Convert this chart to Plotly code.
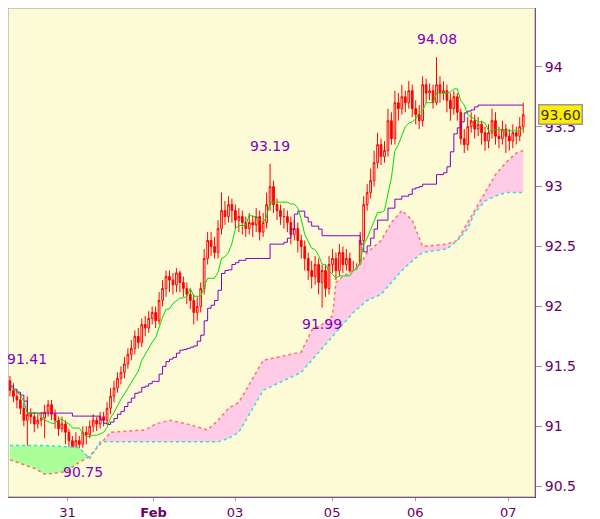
import plotly.graph_objects as go
import pandas as pd

first_open = 91.38
closes = [91.30,91.25,91.22,91.15,91.05,91.10,91.08,91.02,91.05,91.07,
          91.12,91.18,91.10,91.05,90.98,91.02,90.95,90.88,90.80,90.88,
          90.85,90.95,90.93,91.00,91.05,91.02,91.08,91.05,91.15,91.25,
          91.32,91.40,91.45,91.52,91.60,91.65,91.75,91.70,91.85,91.82,
          91.90,91.95,91.88,92.05,92.15,92.25,92.22,92.18,92.28,92.20,
          92.15,92.10,92.05,91.95,92.00,92.15,92.40,92.55,92.50,92.45,
          92.65,92.80,92.75,92.85,92.80,92.72,92.75,92.70,92.65,92.70,
          92.68,92.75,92.62,92.70,92.85,93.00,92.85,92.80,92.75,92.75,
          92.70,92.60,92.65,92.55,92.50,92.40,92.30,92.25,92.35,92.20,
          92.30,92.15,92.35,92.40,92.30,92.45,92.35,92.40,92.30,92.20,
          92.30,92.55,92.85,92.95,93.05,93.20,93.35,93.25,93.30,93.55,
          93.40,93.70,93.65,93.75,93.70,93.80,93.65,93.60,93.55,93.85,
          93.78,93.80,93.70,93.85,93.78,93.80,93.72,93.65,93.75,93.62,
          93.40,93.35,93.50,93.55,93.48,93.52,93.45,93.38,93.45,93.55,
          93.42,93.40,93.48,93.42,93.38,93.45,93.42,93.50,93.60]
highs = [91.42,91.36,91.30,91.28,91.20,91.25,91.15,91.12,91.10,91.12,
         91.18,91.22,91.22,91.14,91.08,91.08,91.05,90.98,90.92,90.95,
         90.92,91.00,91.00,91.05,91.10,91.08,91.12,91.12,91.20,91.32,
         91.38,91.45,91.50,91.58,91.65,91.72,91.80,91.82,91.90,91.92,
         91.96,92.00,92.00,92.12,92.22,92.30,92.30,92.28,92.32,92.30,
         92.25,92.20,92.15,92.10,92.08,92.20,92.48,92.62,92.62,92.58,
         92.72,92.95,92.88,92.92,92.90,92.85,92.82,92.80,92.75,92.78,
         92.76,92.82,92.80,92.78,92.95,93.19,93.05,92.90,92.85,92.82,
         92.80,92.75,92.72,92.70,92.60,92.55,92.45,92.38,92.42,92.40,
         92.35,92.35,92.42,92.48,92.45,92.52,92.50,92.48,92.45,92.38,
         92.36,92.62,92.92,93.02,93.15,93.30,93.45,93.40,93.38,93.65,
         93.62,93.80,93.78,93.85,93.80,93.88,93.85,93.72,93.68,93.92,
         93.90,93.86,93.85,94.08,93.92,93.88,93.85,93.78,93.80,93.78,
         93.65,93.48,93.58,93.62,93.60,93.58,93.55,93.50,93.52,93.65,
         93.62,93.50,93.55,93.52,93.48,93.52,93.50,93.58,93.70]
lows = [91.25,91.20,91.15,91.10,91.00,90.80,91.02,90.95,90.98,91.00,
        90.90,91.08,91.05,90.98,90.92,90.95,90.85,90.82,90.75,90.78,
        90.78,90.82,90.85,90.90,90.95,90.96,90.98,91.00,91.02,91.10,
        91.20,91.28,91.35,91.40,91.48,91.55,91.60,91.65,91.66,91.75,
        91.78,91.85,91.82,91.85,92.00,92.08,92.12,92.10,92.12,92.12,
        92.08,92.02,91.98,91.85,91.88,91.95,92.10,92.35,92.42,92.40,
        92.40,92.60,92.68,92.70,92.70,92.65,92.62,92.60,92.58,92.60,
        92.58,92.62,92.55,92.58,92.65,92.80,92.78,92.72,92.68,92.65,
        92.62,92.52,92.55,92.45,92.40,92.30,92.22,92.15,92.18,92.10,
        91.99,92.08,92.10,92.28,92.22,92.25,92.28,92.30,92.20,92.12,
        92.15,92.25,92.50,92.80,92.90,93.00,93.15,93.18,93.20,93.25,
        93.35,93.35,93.55,93.60,93.62,93.65,93.58,93.52,93.48,93.50,
        93.70,93.72,93.65,93.68,93.70,93.72,93.62,93.55,93.60,93.55,
        93.35,93.28,93.30,93.45,93.40,93.42,93.35,93.30,93.32,93.40,
        93.35,93.32,93.35,93.28,93.30,93.32,93.35,93.38,93.45]

cloud_x = [0,7,10,16,20,23,26,29,39,42,46,51,57,60,63,66,73,84,87,90,93,94,96,99,
           101,103,107,110,113,116,119,126,129,132,134,137,140,143,146,148]
span_b = [90.72,90.65,90.60,90.62,90.70,90.75,90.85,90.95,90.97,91.02,91.05,91.02,90.97,
          91.05,91.15,91.20,91.55,91.62,91.80,91.85,91.92,92.20,92.25,92.30,92.35,92.45,
          92.55,92.70,92.80,92.72,92.50,92.52,92.55,92.70,92.80,92.95,93.10,93.20,93.28,93.30]
span_a = [90.84,90.84,90.84,90.83,90.82,90.73,90.87,90.87,90.87,90.87,90.87,90.87,90.87,
          90.87,90.90,90.95,91.30,91.45,91.55,91.65,91.75,91.78,91.85,91.95,92.00,92.05,
          92.10,92.20,92.30,92.38,92.45,92.48,92.55,92.65,92.78,92.88,92.92,92.95,92.95,92.95]

tick_pos = [16.6, 41.4, 64.9, 92.9, 116.9, 143.7]
tick_text = ["31", "<b>Feb</b>", "03", "05", "06", "07"]
y_ticks = [90.5, 91, 91.5, 92, 92.5, 93, 93.5, 94]
y_text = ["90.5", "91", "91.5", "92", "92.5", "93", "93.5", "94"]
last_price = 93.60
marks = [(5, 91.41, "91.41", 18), (21, 90.75, "90.75", -16), (75, 93.19, "93.19", 18),
         (90, 91.99, "91.99", -16), (123, 94.08, "94.08", 18)]

n = len(closes)
x = list(range(n))
opens = [first_open] + closes[:-1]
hs = pd.Series(highs); ls = pd.Series(lows)
tenkan = (hs.rolling(9, min_periods=1).max() + ls.rolling(9, min_periods=1).min()) / 2
kijun = (hs.rolling(26, min_periods=1).max() + ls.rolling(26, min_periods=1).min()) / 2

fig = go.Figure()
def cloud(sl, color):
    xs = cloud_x[sl]
    fig.add_trace(go.Scatter(x=xs, y=span_b[sl], mode="lines", line=dict(width=0), showlegend=False, hoverinfo="skip"))
    fig.add_trace(go.Scatter(x=xs, y=span_a[sl], mode="lines", line=dict(width=0), fill="tonexty",
                             fillcolor=color, showlegend=False, hoverinfo="skip"))
cloud(slice(0, 6), "#aaff99")
cloud(slice(5, None), "#ffcce8")
fig.add_trace(go.Scatter(x=cloud_x, y=span_b, mode="lines", line=dict(color="#ff7070", width=1.5, dash="dot"), showlegend=False))
fig.add_trace(go.Scatter(x=cloud_x, y=span_a, mode="lines", line=dict(color="#33dde0", width=1.5, dash="dot"), showlegend=False))
fig.add_trace(go.Scatter(x=x, y=kijun, mode="lines", line=dict(color="#8000c0", width=1, shape="hv"), showlegend=False))
fig.add_trace(go.Scatter(x=x, y=tenkan, mode="lines", line=dict(color="#00dd00", width=1), showlegend=False))
fig.add_trace(go.Candlestick(x=x, open=opens, high=highs, low=lows, close=closes,
                             increasing=dict(line=dict(color="#ff0000", width=1), fillcolor="#fffbe0"),
                             decreasing=dict(line=dict(color="#ff0000", width=1), fillcolor="#ff0000"),
                             whiskerwidth=0, showlegend=False))
for xi, yi, t, ys in marks:
    fig.add_annotation(x=xi, y=yi, text=t, showarrow=False, yshift=ys,
                       font=dict(family="DejaVu Sans", size=14, color="#8000c0"))
fig.add_annotation(xref="paper", x=1.005, y=last_price, text="93.60", showarrow=False, xanchor="left",
                   bgcolor="#ffee00", bordercolor="#999999", borderwidth=1.5, borderpad=1,
                   font=dict(family="DejaVu Sans", size=14, color="#333333"))

fig.update_layout(
    width=592, height=511, margin=dict(l=0, r=65, t=0, b=22, autoexpand=False),
    paper_bgcolor="white", plot_bgcolor="#fdfbd6",
    xaxis=dict(range=[-0.57, 151.4], tickvals=tick_pos, ticktext=tick_text, showgrid=False,
               zeroline=False, rangeslider=dict(visible=False), ticks="outside", ticklen=3,
               tickcolor="#999999", showline=True, linecolor="#660066", automargin=False,
               tickfont=dict(family="DejaVu Sans", size=13, color="#660066")),
    yaxis=dict(range=[90.41, 94.49], side="right", tickvals=y_ticks, ticktext=y_text, showgrid=False,
               zeroline=False, ticks="outside", ticklen=6, tickcolor="#999999", showline=True,
               linecolor="#660066", automargin=False,
               tickfont=dict(family="DejaVu Sans", size=14, color="#660066")),
)
fig.add_shape(type="rect", xref="paper", yref="paper", x0=0, x1=1, y0=0, y1=1,
              line=dict(color="#999999", width=1))
fig.write_html("out.html")
